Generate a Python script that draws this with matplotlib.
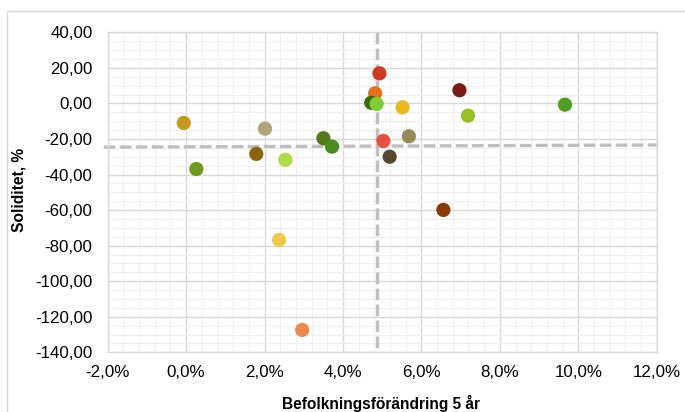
import matplotlib
matplotlib.use("Agg")
import matplotlib.pyplot as plt
from matplotlib.ticker import MultipleLocator, FuncFormatter
from matplotlib.patches import Rectangle

# Data: population change 5 years (%) and solidity (%)
pop_change = [-0.06, 0.26, 2.01, 1.79, 2.53, 2.37, 2.96, 3.50, 3.72,
              4.93, 4.82, 4.72, 4.86, 5.52, 5.03, 5.19, 5.68, 6.97,
              7.19, 6.56, 9.66]
solidity = [-11.0, -36.9, -14.2, -28.4, -31.7, -76.8, -127.4, -19.6, -24.3,
            16.9, 5.7, 0.4, -0.3, -2.2, -21.1, -30.0, -18.5, 7.4,
            -6.9, -59.9, -0.7]
colors = ["#C49A1C", "#6E9A1E", "#B0A57A", "#8B650E", "#ADDC45", "#F0C84A",
          "#EE8A50", "#557A1C", "#4A8C1E", "#D03A1E", "#E8701E", "#3E6A14",
          "#7ED030", "#EBB820", "#E85040", "#554A2E", "#958A55", "#7A1A14",
          "#98C020", "#8A3A0A", "#4EA020"]

# reference lines (averages)
vline_x = [4.86, 4.86]
vline_y = [40, -140]
hline_x = [-2.1, 12.0]
hline_y = [-24.6, -23.4]

plt.rcParams['font.family'] = ['Liberation Sans', 'DejaVu Sans']

fig = plt.figure(figsize=(6.85, 4.12), dpi=100)
ax = fig.add_axes([107.7 / 685, 1 - 352.3 / 412, (656.7 - 107.7) / 685, (352.3 - 32.3) / 412])

# outer chart border
fig.patches.append(Rectangle((7 / 685, -0.05), 1.05, 1 - 11 / 412 + 0.05,
                             transform=fig.transFigure, fill=False,
                             edgecolor="#D9D9D9", linewidth=1.0))

ax.set_xlim(-2, 12)
ax.set_ylim(-140, 40)
ax.xaxis.set_major_locator(MultipleLocator(2))
ax.xaxis.set_minor_locator(MultipleLocator(0.4))
ax.yaxis.set_major_locator(MultipleLocator(20))
ax.yaxis.set_minor_locator(MultipleLocator(5))
ax.grid(which='major', color="#D9D9D9", linewidth=1.0, zorder=0)
ax.grid(which='minor', color="#F0F0F0", linewidth=0.9, zorder=0)
ax.set_axisbelow(True)
ax.tick_params(which='both', length=0)
ax.tick_params(axis='both', labelsize=12.2, colors="#000000")
ax.tick_params(axis='x', pad=9)
ax.tick_params(axis='y', pad=11)
ax.xaxis.set_major_formatter(FuncFormatter(lambda v, p: f"{v:.1f}%".replace('.', ',')))
ax.yaxis.set_major_formatter(FuncFormatter(lambda v, p: f"{v:.2f}".replace('.', ',')))
for s in ax.spines.values():
    s.set_color("#D9D9D9")
    s.set_linewidth(1.0)

ax.plot(vline_x, vline_y, color="#BFBFBF", linewidth=2.4, dashes=(3.5, 1.3),
        clip_on=False, zorder=2)
ax.plot(hline_x, hline_y, color="#BFBFBF", linewidth=2.4, dashes=(3.5, 1.3),
        clip_on=False, zorder=2)

ax.scatter(pop_change, solidity, s=105, c=colors, edgecolors='none', zorder=3)

fig.text(19 / 685, 1 - 190 / 412, "Soliditet, %", rotation=90, ha='center', va='center',
         fontsize=11.2, fontweight='bold')
fig.text(381 / 685, 1 - 403 / 412, "Befolkningsförändring 5 år", ha='center', va='center',
         fontsize=11.2, fontweight='bold')

fig.savefig("out.png", dpi=100)
